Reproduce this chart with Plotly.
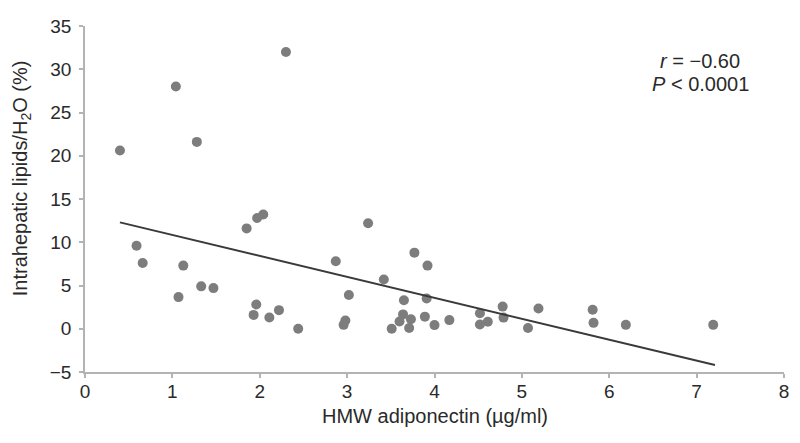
import plotly.graph_objects as go

# HMW adiponectin (ug/ml)
adiponectin = [0.40, 1.04, 1.28, 2.30,
               0.59, 0.66, 1.125, 1.07, 1.33, 1.47, 1.85, 1.97, 2.04, 1.96, 1.93, 2.11, 2.22, 2.44,
               3.24, 2.87, 3.02, 2.98, 2.96, 3.42, 3.77, 3.92, 3.65, 3.91, 3.64, 3.60, 3.73, 3.71,
               3.51, 3.89, 4.00, 4.17, 4.52, 4.52, 4.61, 4.78, 4.79, 5.07, 5.19,
               5.81, 5.82, 6.19, 7.19]
# Intrahepatic lipids/H2O (%)
lipids = [20.6, 28.0, 21.6, 32.0,
          9.6, 7.6, 7.3, 3.66, 4.9, 4.7, 11.6, 12.8, 13.2, 2.8, 1.6, 1.3, 2.15, 0.0,
          12.2, 7.8, 3.9, 0.95, 0.45, 5.7, 8.8, 7.3, 3.3, 3.5, 1.66, 0.83, 1.1, 0.08,
          0.0, 1.4, 0.42, 1.0, 1.8, 0.5, 0.8, 2.56, 1.29, 0.08, 2.34,
          2.2, 0.68, 0.45, 0.45]

# regression line end points
fit_x = [0.40, 7.21]
fit_y = [12.3, -4.2]

x_ticks = [0, 1, 2, 3, 4, 5, 6, 7, 8]
y_ticks = [-5, 0, 5, 10, 15, 20, 25, 30, 35]
y_ticktext = ["\u22125", "0", "5", "10", "15", "20", "25", "30", "35"]

x_title = "HMW adiponectin (\u00b5g/ml)"
y_title = "Intrahepatic lipids/H<sub>2</sub>O (%)"
stat_r = "<i>r</i> = \u22120.60"
stat_p = "<i>P</i> < 0.0001"

FONT = "Liberation Sans, Arial, sans-serif"
AXIS_COL = "#b3b3b3"
TXT = "#2a2a2a"

fig = go.Figure()
fig.add_trace(go.Scatter(x=adiponectin, y=lipids, mode="markers",
                         marker=dict(size=10, color="#7d7d7d", line=dict(width=0)),
                         showlegend=False))
fig.add_trace(go.Scatter(x=fit_x, y=fit_y, mode="lines",
                         line=dict(color="#3a3a3a", width=2), showlegend=False))

fig.add_annotation(x=7.04, y=30.95, xref="x", yref="y", text=stat_r,
                   showarrow=False, xanchor="center", yanchor="middle",
                   font=dict(family=FONT, size=20, color=TXT))
fig.add_annotation(x=7.04, y=28.35, xref="x", yref="y", text=stat_p,
                   showarrow=False, xanchor="center", yanchor="middle",
                   font=dict(family=FONT, size=20, color=TXT))

# axis titles
fig.add_annotation(x=0.5, y=-0.126, xref="paper", yref="paper", text=x_title,
                   showarrow=False, xanchor="center", yanchor="middle",
                   font=dict(family=FONT, size=20, color=TXT))
fig.add_annotation(x=-0.0916, y=0.56, xref="paper", yref="paper", text=y_title,
                   showarrow=False, xanchor="center", yanchor="middle", textangle=-90,
                   font=dict(family=FONT, size=20, color=TXT))

# page body has an 8px margin, so the figure is shifted by 8px; margins compensate
fig.update_layout(
    width=800, height=443,
    margin=dict(l=77, r=24, t=8, b=79),
    paper_bgcolor="white", plot_bgcolor="white",
    font=dict(family=FONT, size=19, color=TXT),
    xaxis=dict(range=[0, 8], tickvals=x_ticks, ticktext=[str(v) for v in x_ticks],
               showgrid=False, zeroline=False, showline=True, linecolor=AXIS_COL, linewidth=1.5,
               ticks="outside", ticklen=4, tickcolor=AXIS_COL, tickwidth=1.5,
               ticklabeloverflow="allow",
               tickfont=dict(family=FONT, size=19, color=TXT), ticklabelstandoff=-3),
    yaxis=dict(range=[-5, 35], tickvals=y_ticks, ticktext=y_ticktext,
               showgrid=False, zeroline=False, showline=True, linecolor=AXIS_COL, linewidth=1.5,
               ticks="outside", ticklen=4, tickcolor=AXIS_COL, tickwidth=1.5,
               ticklabeloverflow="allow",
               tickfont=dict(family=FONT, size=19, color=TXT), ticklabelstandoff=4),
)

fig.write_html("out.html")
